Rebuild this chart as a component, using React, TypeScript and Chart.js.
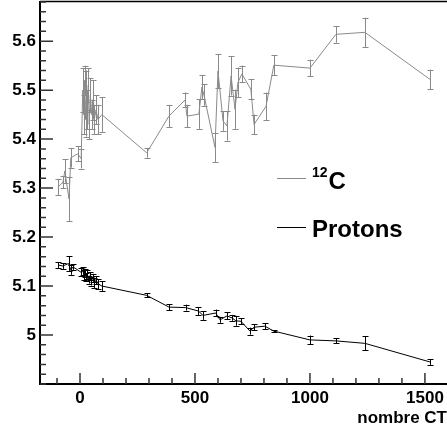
import React, { useEffect, useRef } from "react";
import { Chart, registerables } from "chart.js";

Chart.register(...registerables);

// ---- Data ----
const runsC = [-96, -74, -66, -48, -40, -10, 5, 12, 16, 20, 24, 28, 32, 36, 40, 45, 50, 55, 62, 70, 78, 95, 290, 387, 457, 465, 517, 530, 539, 587, 600, 622, 639, 657, 674, 687, 704, 743, 757, 809, 843, 1000, 1113, 1239, 1522];
const valsC = [5.302, 5.312, 5.335, 5.278, 5.362, 5.37, 5.36, 5.5, 5.45, 5.52, 5.44, 5.5, 5.46, 5.51, 5.43, 5.49, 5.45, 5.48, 5.44, 5.46, 5.44, 5.45, 5.372, 5.447, 5.48, 5.447, 5.451, 5.506, 5.49, 5.383, 5.539, 5.437, 5.427, 5.529, 5.461, 5.516, 5.533, 5.502, 5.43, 5.467, 5.551, 5.545, 5.614, 5.618, 5.522];
const errC = [0.017, 0.012, 0.024, 0.045, 0.02, 0.015, 0.02, 0.045, 0.04, 0.03, 0.035, 0.04, 0.04, 0.035, 0.03, 0.035, 0.03, 0.04, 0.03, 0.03, 0.03, 0.035, 0.01, 0.023, 0.015, 0.023, 0.03, 0.025, 0.022, 0.03, 0.035, 0.02, 0.03, 0.04, 0.04, 0.03, 0.017, 0.02, 0.02, 0.028, 0.02, 0.017, 0.017, 0.03, 0.02];

const runsP = [-95, -75, -50, -40, -30, 5, 12, 18, 22, 28, 32, 38, 42, 48, 55, 62, 70, 80, 95, 290, 387, 459, 515, 535, 590, 609, 639, 661, 678, 700, 739, 757, 804, 843, 1000, 1113, 1239, 1522];
const valsP = [5.143, 5.141, 5.146, 5.133, 5.139, 5.128, 5.131, 5.122, 5.127, 5.118, 5.124, 5.113, 5.12, 5.11, 5.117, 5.106, 5.112, 5.104, 5.1, 5.081, 5.057, 5.056, 5.049, 5.04, 5.045, 5.031, 5.039, 5.035, 5.029, 5.028, 5.008, 5.016, 5.018, 5.008, 4.99, 4.988, 4.983, 4.945];
const errP = [0.006, 0.006, 0.015, 0.01, 0.006, 0.008, 0.008, 0.01, 0.008, 0.008, 0.009, 0.008, 0.008, 0.009, 0.008, 0.01, 0.008, 0.01, 0.01, 0.004, 0.006, 0.006, 0.008, 0.009, 0.007, 0.006, 0.007, 0.006, 0.01, 0.006, 0.007, 0.006, 0.006, 0.002, 0.009, 0.005, 0.014, 0.006];

const xMajorTicks = [0, 500, 1000, 1500];
const xMinorStep = 100;
const yMajorTicks = [5.0, 5.1, 5.2, 5.3, 5.4, 5.5, 5.6];
const yMinorStep = 0.02;
const X_MIN = -174;
const X_MAX = 1596;
const Y_MIN = 4.9;
const Y_MAX = 5.682;

const seriesC = { sup: "12", base: "C" };
const seriesP = "Protons";
const xTitle = "nombre CT";

const GRAY = "#8a8a8a";
const FONT = "'Liberation Sans', Arial, Helvetica, sans-serif";

const rootPlugin = {
  id: "rootStyle",
  afterDatasetsDraw(chart: any) {
    const ctx = chart.ctx;
    const xs = chart.scales.x;
    const ys = chart.scales.y;
    const ca = chart.chartArea;
    ctx.save();

    // error bars
    const sets = [
      { r: runsC, v: valsC, e: errC, c: GRAY },
      { r: runsP, v: valsP, e: errP, c: "#000" },
    ];
    for (const s of sets) {
      ctx.strokeStyle = s.c;
      ctx.lineWidth = 1;
      for (let i = 0; i < s.r.length; i++) {
        const px = Math.round(xs.getPixelForValue(s.r[i])) + 0.5;
        const y1 = ys.getPixelForValue(s.v[i] + s.e[i]);
        const y2 = ys.getPixelForValue(s.v[i] - s.e[i]);
        ctx.beginPath();
        ctx.moveTo(px, y1);
        ctx.lineTo(px, y2);
        ctx.moveTo(px - 3, Math.round(y1) + 0.5);
        ctx.lineTo(px + 3, Math.round(y1) + 0.5);
        ctx.moveTo(px - 3, Math.round(y2) + 0.5);
        ctx.lineTo(px + 3, Math.round(y2) + 0.5);
        ctx.stroke();
      }
    }

    // frame
    ctx.strokeStyle = "#000";
    ctx.lineWidth = 2;
    ctx.beginPath();
    ctx.moveTo(ca.left, ca.top);
    ctx.lineTo(ca.left, ca.bottom);
    ctx.lineTo(chart.width, ca.bottom);
    ctx.stroke();
    ctx.lineWidth = 1.5;
    ctx.beginPath();
    ctx.moveTo(ca.left, ca.top + 0.5);
    ctx.lineTo(chart.width, ca.top + 0.5);
    ctx.stroke();

    // ticks (inside)
    ctx.strokeStyle = "#333";
    ctx.lineWidth = 1.5;
    ctx.beginPath();
    const isMajor = (v: number, arr: number[], eps: number) => arr.some((m) => Math.abs(m - v) < eps);
    for (let v = Math.ceil(Y_MIN / yMinorStep) * yMinorStep; v <= Y_MAX + 1e-9; v += yMinorStep) {
      const py = ys.getPixelForValue(v);
      const len = isMajor(v, yMajorTicks, 1e-6) ? 13 : 6;
      ctx.moveTo(ca.left, py);
      ctx.lineTo(ca.left + len, py);
    }
    for (let v = Math.ceil(X_MIN / xMinorStep) * xMinorStep; v <= X_MAX; v += xMinorStep) {
      const px = xs.getPixelForValue(v);
      const len = isMajor(v, xMajorTicks, 1e-6) ? 11 : 6;
      ctx.moveTo(px, ca.bottom);
      ctx.lineTo(px, ca.bottom - len);
    }
    ctx.stroke();

    // legend
    ctx.lineWidth = 1;
    ctx.strokeStyle = GRAY;
    ctx.beginPath();
    ctx.moveTo(277, 178.5);
    ctx.lineTo(306, 178.5);
    ctx.stroke();
    ctx.strokeStyle = "#000";
    ctx.beginPath();
    ctx.moveTo(277, 227.5);
    ctx.lineTo(306, 227.5);
    ctx.stroke();

    ctx.fillStyle = "#000";
    ctx.textAlign = "left";
    ctx.textBaseline = "alphabetic";
    ctx.font = `bold 14px ${FONT}`;
    ctx.fillText(seriesC.sup, 312, 177);
    const w = ctx.measureText(seriesC.sup).width;
    ctx.font = `bold 24px ${FONT}`;
    ctx.fillText(seriesC.base, 312 + w + 1, 189);
    ctx.font = `bold 24px ${FONT}`;
    ctx.fillText(seriesP, 312, 237);

    // axis title
    ctx.font = `bold 17px ${FONT}`;
    ctx.textAlign = "right";
    ctx.fillText(xTitle, 447, 423);

    ctx.restore();
  },
};

export default function App() {
  const ref = useRef<HTMLCanvasElement>(null);
  useEffect(() => {
    if (!ref.current) return;
    const chart = new Chart(ref.current, {
      type: "line",
      data: {
        datasets: [
          {
            label: seriesC.sup + seriesC.base,
            data: runsC.map((x, i) => ({ x, y: valsC[i] })),
            borderColor: GRAY,
            borderWidth: 1,
            pointRadius: 0,
            tension: 0,
            fill: false,
          },
          {
            label: seriesP,
            data: runsP.map((x, i) => ({ x, y: valsP[i] })),
            borderColor: "#000",
            borderWidth: 1,
            pointRadius: 0,
            tension: 0,
            fill: false,
          },
        ],
      },
      options: {
        animation: false,
        responsive: false,
        devicePixelRatio: 1,
        layout: { padding: { top: 1, right: 0, left: 0, bottom: 0 } },
        plugins: { legend: { display: false }, tooltip: { enabled: false } },
        scales: {
          x: {
            type: "linear",
            min: X_MIN,
            max: X_MAX,
            grid: { display: false, drawTicks: false },
            border: { display: false },
            ticks: {
              autoSkip: false,
              maxRotation: 0,
              padding: 4,
              color: "#000",
              font: { family: FONT, size: 17, weight: "bold" },
              callback: (v: any) => String(v),
            },
            afterBuildTicks: (s: any) => {
              s.ticks = xMajorTicks.map((v) => ({ value: v }));
            },
            afterFit: (s: any) => {
              s.height = 47;
              s.paddingLeft = 0;
              s.paddingRight = 0;
            },
          },
          y: {
            type: "linear",
            min: Y_MIN,
            max: Y_MAX,
            grid: { display: false, drawTicks: false },
            border: { display: false },
            ticks: {
              autoSkip: false,
              padding: 4,
              color: "#000",
              font: { family: FONT, size: 17, weight: "bold" },
              callback: (v: any) => String(Number(Number(v).toFixed(1))),
            },
            afterBuildTicks: (s: any) => {
              s.ticks = yMajorTicks.map((v) => ({ value: v }));
            },
            afterFit: (s: any) => {
              s.width = 40;
              s.paddingTop = 0;
              s.paddingBottom = 0;
            },
          },
        },
      },
      plugins: [rootPlugin],
    });
    return () => chart.destroy();
  }, []);
  return (
    <div style={{ position: "absolute", left: 0, top: 0, width: 447, height: 431, background: "#fff" }}>
      <canvas ref={ref} width={447} height={431} style={{ width: 447, height: 431, display: "block" }} />
    </div>
  );
}
